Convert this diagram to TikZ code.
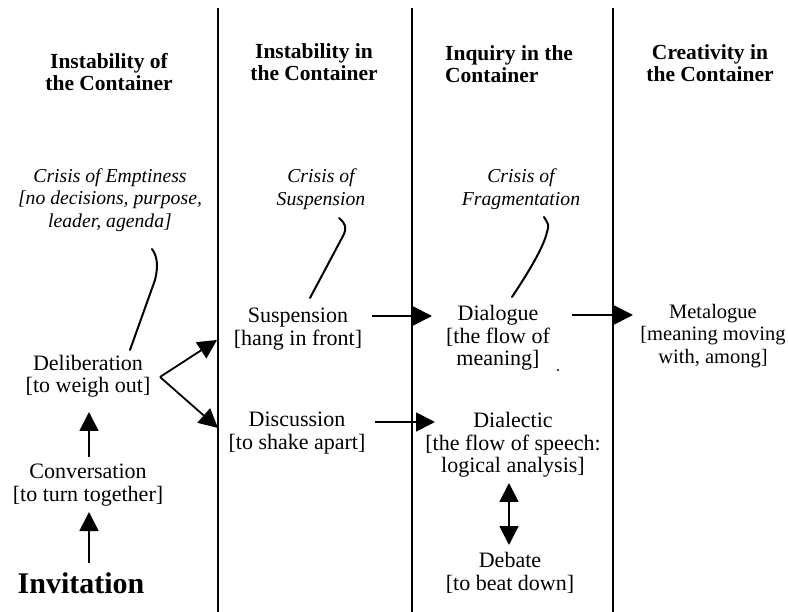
\documentclass[tikz,border=0pt]{standalone}
\usepackage{fontspec}
\setmainfont{Liberation Serif}
\usetikzlibrary{arrows.meta,calc}

\tikzset{
  colline/.style={line width=1.8pt},
  arr/.style={line width=1.8pt,-{Triangle[length=19pt,width=19pt]}},
  dblarr/.style={line width=1.8pt,{Triangle[length=19pt,width=19pt]}-{Triangle[length=19pt,width=19pt]}},
  hookline/.style={line width=2pt,line cap=round},
  head/.style={font=\fontsize{21.5}{21.5}\selectfont\bfseries,align=center,inner sep=0pt},
  stage/.style={font=\fontsize{22}{22.5}\selectfont,align=center,inner sep=0pt},
  crisis/.style={font=\fontsize{19.7}{22.5}\selectfont\itshape,align=center,inner sep=0pt},
}

\begin{document}
\begin{tikzpicture}[x=1pt,y=-1pt]
\useasboundingbox (0,0) rectangle (788,612);

% column separators
\draw[colline] (218,8) -- (218,612);
\draw[colline] (412,8) -- (412,612);
\draw[colline] (613,8) -- (613,612);

% column headings
\node[head] (h1) at (109,72) {Instability of\\the Container};
\node[head] (h2) at (314,62) {Instability in\\the Container};
\node[head,align=left,anchor=west] (h3) at (445,64) {Inquiry in the\\Container};
\node[head] (h4) at (710,63) {Creativity in\\the Container};

% crises
\node[crisis] (crA) at (110,200) {Crisis of Emptiness\\{}[no decisions, purpose,\\leader, agenda]};
\node[crisis] (crB) at (321,189) {Crisis of\\Suspension};
\node[crisis] (crC) at (521,189) {Crisis of\\Fragmentation};

% stages
\node[stage] (delib) at (88,376) {Deliberation\\{}[to weigh out]};
\node[stage] (conv) at (88,485) {Conversation\\{}[to turn together]};
\node[font=\fontsize{30}{32}\selectfont\bfseries,inner sep=0pt] (invit) at (81,583) {Invitation};
\node[stage] (susp) at (298,329) {Suspension\\{}[hang in front]};
\node[stage] (disc) at (297,433) {Discussion\\{}[to shake apart]};
\node[stage] (dlg) at (498,338) {Dialogue\\{}[the flow of\\meaning]};
\node[stage] (dlc) at (513,445) {Dialectic\\{}[the flow of speech:\\logical analysis]};
\node[stage] (deb) at (510,573) {Debate\\{}[to beat down]};
\node[stage,font=\fontsize{20.5}{22.5}\selectfont] (meta) at (713,336) {Metalogue\\{}[meaning moving\\with, among]};

% upward arrows in the first column
\draw[arr] ($(invit)+(8,-20)$) -- ($(conv)+(1,27)$);
\draw[arr] ($(conv)+(1,-28)$) -- ($(delib)+(1,36)$);

% branching from deliberation
\draw[arr] ($(delib)+(72,1)$) -- ($(susp)+(-81,11)$);
\draw[arr] ($(delib)+(72,1)$) -- ($(disc)+(-79,-5)$);

% horizontal arrows
\draw[arr] ($(susp)+(74,-13)$) -- ($(dlg)+(-66,-22)$);
\draw[arr] ($(disc)+(78,-11)$) -- ($(dlc)+(-78,-23)$);
\draw[arr] ($(dlg)+(74,-23)$) -- ($(meta)+(-80,-21)$);

% dialectic <-> debate
\draw[dblarr] ($(dlc)+(-4,38)$) -- ($(deb)+(-1,-28)$);

% links from stages up to their crises
\draw[hookline] ($(delib)+(42,-26)$) -- (155,280) .. controls (158,268) and (158,257) .. ($(crA)+(42,49)$);
\draw[hookline] ($(susp)+(12,-31)$) -- (343,236) .. controls (347,228) and (346,224) .. ($(crB)+(18,29)$);
\draw[hookline] ($(dlg)+(14,-41)$) .. controls (530,270) and (544,246) .. (547,232) .. controls (549,225) .. ($(crC)+(23,28)$);

% small speck beside the dialogue entry
\fill (558,370) circle (1.1);
\end{tikzpicture}
\end{document}
